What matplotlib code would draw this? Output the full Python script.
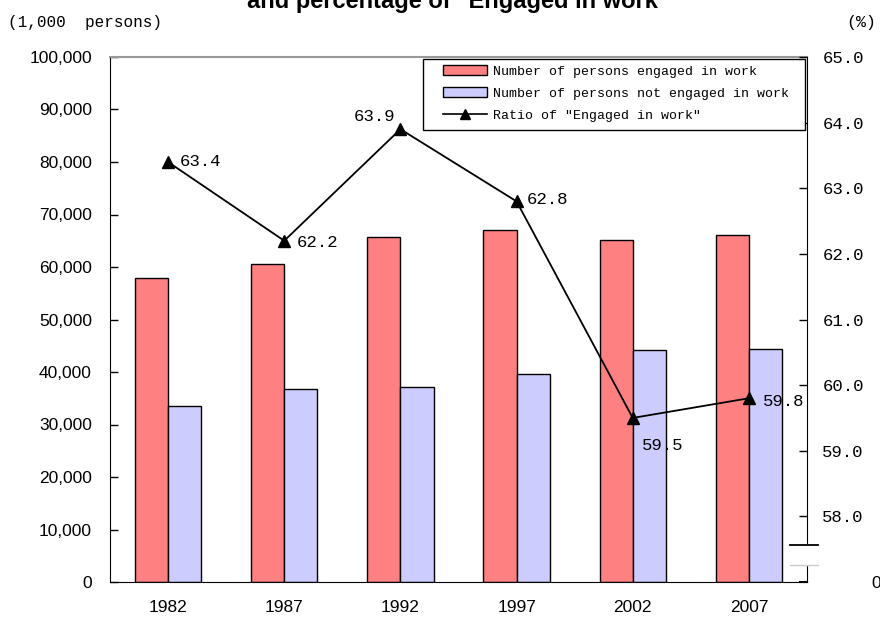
import numpy as np
import matplotlib
matplotlib.use("Agg")
import matplotlib.pyplot as plt
from matplotlib.ticker import FuncFormatter
from matplotlib.patches import Patch, Rectangle
from matplotlib.lines import Line2D

# data
years = ["1982", "1987", "1992", "1997", "2002", "2007"]
engaged = [57900, 60600, 65700, 67000, 65200, 66100]
not_engaged = [33500, 36800, 37100, 39600, 44200, 44400]
ratio = [63.4, 62.2, 63.9, 62.8, 59.5, 59.8]
# label offsets in pixels (dx, dy, ha)
label_pos = [(12, 0, "left"), (12, -2, "left"), (-5, 13, "right"),
             (10, 2, "left"), (9, -28, "left"), (14, -3, "left")]

RED = "#FF8080"
BLUE = "#CCCCFF"
MONO = "Liberation Mono"
SANS = "Liberation Sans"

fig = plt.figure(figsize=(8.8, 6.19), dpi=100)
ax = fig.add_axes([110 / 880, 37 / 619, 697 / 880, 525 / 619])
ax2 = ax.twinx()

x = np.arange(len(years))
w = 0.285
ax.bar(x - w / 2, engaged, w, color=RED, edgecolor="black", linewidth=1)
ax.bar(x + w / 2, not_engaged, w, color=BLUE, edgecolor="black", linewidth=1)

ax.set_xlim(-0.5, len(years) - 0.5)
ax.set_ylim(0, 100000)
ax.set_yticks(np.arange(0, 100001, 10000))
ax.yaxis.set_major_formatter(FuncFormatter(lambda v, p: f"{int(v):,}"))
ax.set_xticks(x)
ax.set_xticklabels(years, fontfamily=SANS, fontsize=12.5)
ax.tick_params(axis="x", length=0, pad=13)
ax.tick_params(axis="y", direction="in", length=6, width=1, pad=13,
               labelsize=12.5)
for lab in ax.get_yticklabels():
    lab.set_fontfamily(SANS)
ax.spines["top"].set_color("#999999")
ax.spines["top"].set_linewidth(1.5)

# ratio line on right axis
ax2.plot(x, ratio, color="black", linewidth=1.3, marker="^", markersize=8,
         zorder=5)
ax2.set_ylim(57.0, 65.0)
ax2.set_yticks(np.arange(58, 65.1, 1.0))
ax2.yaxis.set_major_formatter(FuncFormatter(lambda v, p: f"{v:.1f}"))
ax2.tick_params(axis="y", direction="in", length=6, width=1, pad=11,
                labelsize=12.5)
for lab in ax2.get_yticklabels():
    lab.set_fontfamily(MONO)
ax2.spines["top"].set_visible(False)
ax2.spines["left"].set_visible(False)
ax2.spines["bottom"].set_visible(False)
ax.spines["right"].set_visible(False)

for xi, r, (dx, dy, ha) in zip(x, ratio, label_pos):
    ax2.annotate(f"{r:.1f}", (xi, r), xytext=(dx, dy), textcoords="offset pixels",
                 ha=ha, va="center", fontfamily=MONO, fontsize=12.5, zorder=6)

# axis break on the right axis
tr = ax2.transAxes
ax2.plot([1, 1], [0.034, 0.069], color="white", linewidth=3, transform=tr,
         clip_on=False, zorder=10)
ax2.plot([0.976, 1.016], [0.0705, 0.0705], color="black", linewidth=1.3,
         transform=tr, clip_on=False, zorder=11)
ax2.plot([0.976, 1.016], [0.032, 0.032], color="#cccccc", linewidth=1,
         transform=tr, clip_on=False, zorder=11)
ax2.plot([0.99, 1.0], [0.0, 0.0], color="black", linewidth=1.5,
         transform=tr, clip_on=False, zorder=11)
fig.text(876 / 880, 1 - 584 / 619, "0", ha="center", va="center",
         fontfamily=SANS, fontsize=12.5)

# legend: own frame, legend itself frameless
ax2.add_patch(Rectangle((0.449, 0.861), 0.548, 0.1352, transform=tr,
                        facecolor="white", edgecolor="black", linewidth=1,
                        clip_on=False, zorder=19))
handles = [Patch(facecolor=RED, edgecolor="black", linewidth=1),
           Patch(facecolor=BLUE, edgecolor="black", linewidth=1),
           Line2D([], [], color="black", linewidth=1.2, marker="^",
                  markersize=7)]
labels = ["Number of persons engaged in work",
          "Number of persons not engaged in work",
          'Ratio of "Engaged in work"']
leg = ax2.legend(handles, labels, loc="upper left", bbox_to_anchor=(0.4778, 0.985),
                 borderaxespad=0, borderpad=0, frameon=False,
                 prop={"family": MONO, "size": 9.5},
                 handlelength=3.33, handleheight=0.8, handletextpad=0.45,
                 labelspacing=0.73)
leg.set_zorder(20)

# titles / units
fig.text(458 / 880, 1 - 8 / 619, 'and percentage of "Engaged in work"',
         ha="center", va="baseline", fontfamily=SANS, fontweight="bold",
         fontsize=17)
fig.text(8 / 880, 1 - 23 / 619, "(1,000  persons)", ha="left", va="center",
         fontfamily=MONO, fontsize=11.5)
fig.text(861 / 880, 1 - 23 / 619, "(%)", ha="center", va="center",
         fontfamily=MONO, fontsize=12)

fig.savefig("out.png", dpi=100)
